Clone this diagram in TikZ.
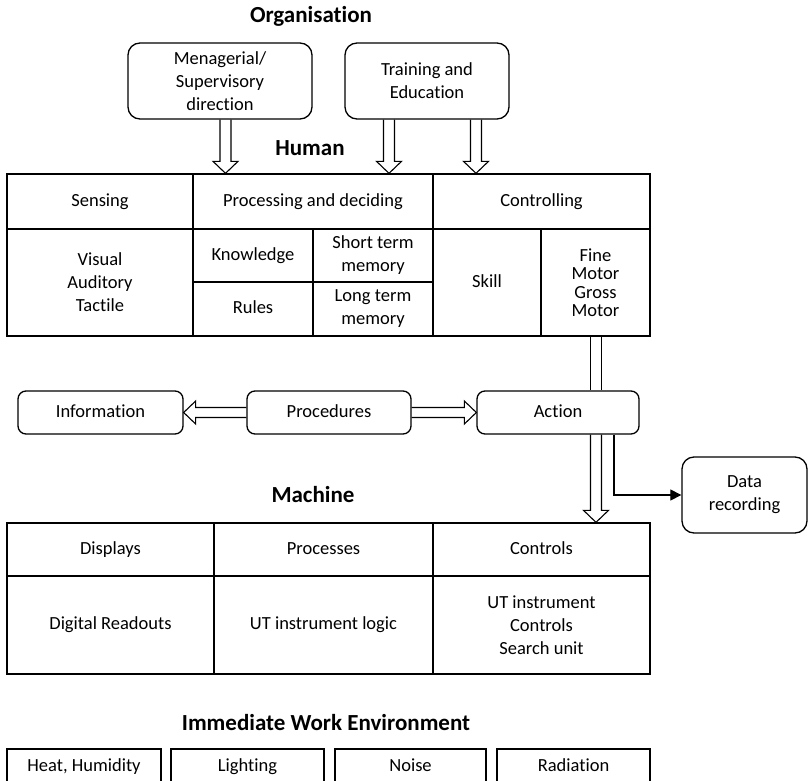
\documentclass[tikz,border=0pt]{standalone}
\usepackage{fontspec}
\setmainfont{Carlito}[Ligatures=NoCommon]
\usetikzlibrary{calc,arrows.meta}
\newcommand\hollowdown[2]{\draw[hollow] let \p1=(#1), \p2=(#2) in (\x1-5.5pt,\y1) -- (\x1-5.5pt,\y2+12pt) -- (\x1-12.5pt,\y2+12pt) -- (\x1,\y2) -- (\x1+12.5pt,\y2+12pt) -- (\x1+5.5pt,\y2+12pt) -- (\x1+5.5pt,\y1);}
\newcommand\hollowright[2]{\draw[hollow] let \p1=(#1), \p2=(#2) in (\x1,\y1+5pt) -- (\x2-12pt,\y1+5pt) -- (\x2-12pt,\y1+11.5pt) -- (\x2,\y1) -- (\x2-12pt,\y1-11.5pt) -- (\x2-12pt,\y1-5pt) -- (\x1,\y1-5pt);}
\newcommand\hollowleft[2]{\draw[hollow] let \p1=(#1), \p2=(#2) in (\x1,\y1+5pt) -- (\x2+12pt,\y1+5pt) -- (\x2+12pt,\y1+11.5pt) -- (\x2,\y1) -- (\x2+12pt,\y1-11.5pt) -- (\x2+12pt,\y1-5pt) -- (\x1,\y1-5pt);}
\begin{document}
\begin{tikzpicture}[x=1pt,y=-1pt,
  txt/.style={font=\fontsize{18.5}{23}\selectfont, align=center, inner sep=0pt},
  one/.style={text height=13.5pt, text depth=4pt},
  ttl/.style={font=\fontsize{23}{28}\selectfont\bfseries, inner sep=0pt, text height=16pt, text depth=5pt},
  rbox/.style={txt, draw, line width=1.3pt, rounded corners=12pt},
  sbox/.style={txt, draw, line width=1.3pt, rounded corners=8pt},
  cell/.style={txt, draw, line width=1.3pt},
  hollow/.style={draw, line width=1.1pt, line join=miter},
  conn/.style={draw, line width=1.1pt},
]
\useasboundingbox (0,0) rectangle (808,781);

% Organisation
\node[ttl] (torg) at (311,17) {Organisation};
\node[rbox, minimum width=184pt, minimum height=76pt] (mgr) at (220,81) {Menagerial/\\Supervisory\\direction};
\node[rbox, minimum width=164pt, minimum height=76pt] (trn) at (427,81) {Training and\\Education};
\node[ttl] (thum) at (310,150) {Human};

% Human table
\node[cell, one, minimum width=186pt, minimum height=55pt] (hs) at (100,201.5) {Sensing};
\node[cell, one, minimum width=240pt, minimum height=55pt] (hp) at (313,201.5) {Processing and deciding};
\node[cell, one, minimum width=217pt, minimum height=55pt] (hc) at (541.5,201.5) {Controlling};
\node[cell, minimum width=186pt, minimum height=107pt] (hv) at (100,282.5) {Visual\\Auditory\\Tactile};
\node[cell, one, minimum width=120pt, minimum height=53pt] (hk) at (253,255.5) {Knowledge};
\node[cell, minimum width=120pt, minimum height=53pt] (hst) at (373,255.5) {Short term\\memory};
\node[cell, one, minimum width=120pt, minimum height=54pt] (hr) at (253,309) {Rules};
\node[cell, minimum width=120pt, minimum height=54pt] (hl) at (373,309) {Long term\\memory};
\node[cell, one, minimum width=108pt, minimum height=107pt] (hsk) at (487,282.5) {Skill};
\node[cell, minimum width=109pt, minimum height=107pt, font=\fontsize{18.5}{18.5}\selectfont] (hf) at (595.5,282.5) {Fine\\Motor\\Gross\\Motor};

% arrows into human
\coordinate (a1) at ($(mgr.south)+(5.5,0)$);
\coordinate (a2) at ($(trn.south)+(-38,0)$);
\coordinate (a3) at ($(trn.south)+(49,0)$);
\hollowdown{a1}{hp.north}
\hollowdown{a2}{hp.north}
\hollowdown{a3}{hc.north}

% middle row
\node[sbox, one, minimum width=165pt, minimum height=43pt] (info) at (100.5,412.5) {Information};
\node[sbox, one, minimum width=164pt, minimum height=43pt] (proc) at (329,412.5) {Procedures};
\node[sbox, one, minimum width=162pt, minimum height=43pt] (act) at (558,412.5) {Action};
\node[rbox, minimum width=125pt, minimum height=76pt] (dat) at (744.5,495) {Data\\recording};

\hollowleft{proc.west}{info.east}
\hollowright{proc.east}{act.west}

\coordinate (ax) at ($(act.north)+(38,0)$);
\draw[conn] ($(ax |- hf.south)+(-5.5,0)$) -- ($(ax)+(-5.5,0)$);
\draw[conn] ($(ax |- hf.south)+(5.5,0)$) -- ($(ax)+(5.5,0)$);

% Machine
\node[ttl] (tmac) at (313,497) {Machine};
\node[cell, one, minimum width=207pt, minimum height=53pt] (md) at (110.5,549.5) {Displays};
\node[cell, one, minimum width=219pt, minimum height=53pt] (mp) at (323.5,549.5) {Processes};
\node[cell, one, minimum width=217pt, minimum height=53pt] (mc) at (541.5,549.5) {Controls};
\node[cell, one, minimum width=207pt, minimum height=98pt] (mdr) at (110.5,625) {Digital Readouts};
\node[cell, one, minimum width=219pt, minimum height=98pt] (mul) at (323.5,625) {UT instrument logic};
\node[cell, minimum width=217pt, minimum height=98pt] (muc) at (541.5,625) {UT instrument\\Controls\\Search unit};

\coordinate (ay) at ($(act.south)+(38,0)$);
\hollowdown{ay}{mc.north}
\draw[conn, -{Triangle[length=11pt,width=11pt]}] ($(act.south)+(56,0)$) |- (dat.west);

% Environment
\node[ttl] (tenv) at (326,725) {Immediate Work Environment};
\node[cell, one, minimum width=154pt, minimum height=36pt] (eh) at (84,767) {Heat, Humidity};
\node[cell, one, minimum width=153pt, minimum height=36pt] (el) at (247.5,767) {Lighting};
\node[cell, one, minimum width=151pt, minimum height=36pt] (en) at (410.5,767) {Noise};
\node[cell, one, minimum width=153pt, minimum height=36pt] (er) at (573.5,767) {Radiation};
\end{tikzpicture}
\end{document}
